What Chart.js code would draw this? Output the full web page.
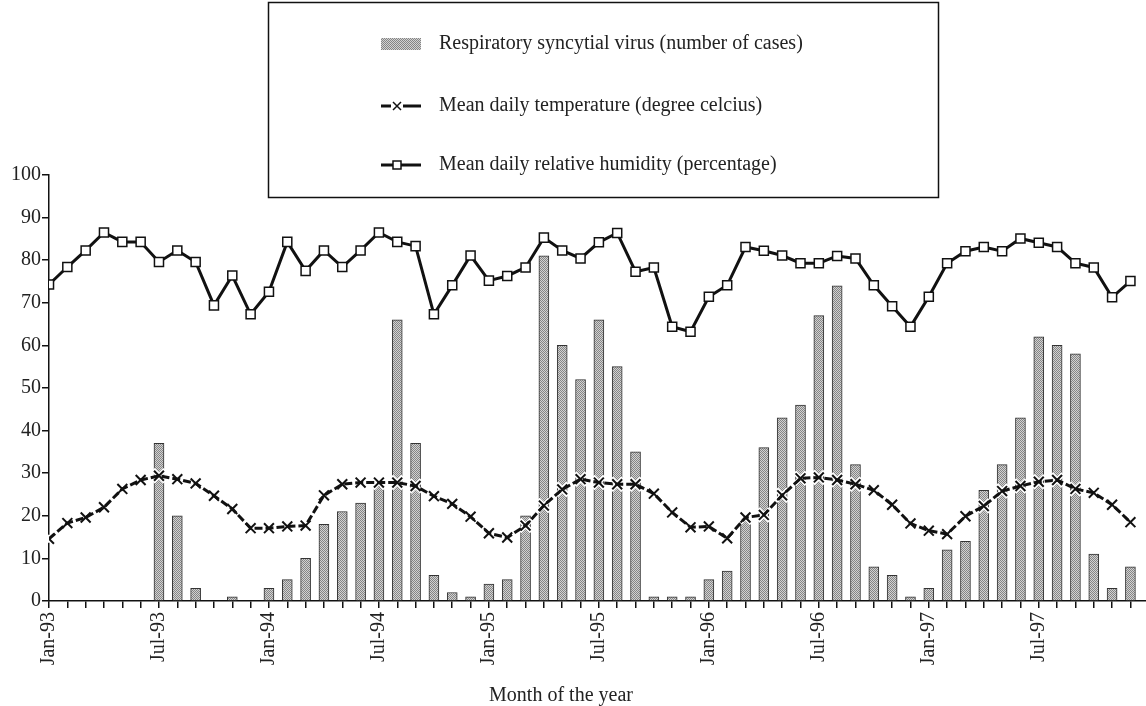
<!DOCTYPE html>
<html>
<head>
<meta charset="utf-8">
<script src="https://cdn.jsdelivr.net/npm/chart.js@4.4.0/dist/chart.umd.min.js"></script>
<style>
  body { margin: 0; background: #fff; }
  #wrap { width: 1146px; height: 706px; }
</style>
</head>
<body>
<div id="wrap"><canvas id="grafico" width="1146" height="706"></canvas></div>
<script>
// meses del eje x
const months = [
  'Jan-93','Feb-93','Mar-93','Apr-93','May-93','Jun-93','Jul-93','Aug-93','Sep-93','Oct-93','Nov-93','Dec-93',
  'Jan-94','Feb-94','Mar-94','Apr-94','May-94','Jun-94','Jul-94','Aug-94','Sep-94','Oct-94','Nov-94','Dec-94',
  'Jan-95','Feb-95','Mar-95','Apr-95','May-95','Jun-95','Jul-95','Aug-95','Sep-95','Oct-95','Nov-95','Dec-95',
  'Jan-96','Feb-96','Mar-96','Apr-96','May-96','Jun-96','Jul-96','Aug-96','Sep-96','Oct-96','Nov-96','Dec-96',
  'Jan-97','Feb-97','Mar-97','Apr-97','May-97','Jun-97','Jul-97','Aug-97','Sep-97','Oct-97','Nov-97','Dec-97'
];
// etiquetas que se muestran
const tickLabels = ['Jan-93','Jul-93','Jan-94','Jul-94','Jan-95','Jul-95','Jan-96','Jul-96','Jan-97','Jul-97'];

// casos de virus sincitial respiratorio
const rsvCases = [
  0, 0, 0, 0, 0, 0, 37, 20, 3, 0, 1, 0,
  3, 5, 10, 18, 21, 23, 27, 66, 37, 6, 2, 1,
  4, 5, 20, 81, 60, 52, 66, 55, 35, 1, 1, 1,
  5, 7, 19, 36, 43, 46, 67, 74, 32, 8, 6, 1,
  3, 12, 14, 26, 32, 43, 62, 60, 58, 11, 3, 8
];
// temperatura media diaria
const temperature = [
  14.6, 18.3, 19.6, 22.0, 26.3, 28.4, 29.4, 28.6, 27.6, 24.7, 21.6, 17.1,
  17.1, 17.5, 17.7, 24.8, 27.4, 27.8, 27.8, 27.8, 27.0, 24.6, 22.8, 19.8,
  15.9, 14.9, 17.7, 22.4, 26.2, 28.6, 27.8, 27.4, 27.4, 25.2, 20.8, 17.3,
  17.5, 14.7, 19.6, 20.2, 24.8, 28.8, 29.0, 28.4, 27.4, 26.0, 22.6, 18.2,
  16.5, 15.7, 19.9, 22.3, 25.8, 27.0, 28.0, 28.4, 26.3, 25.4, 22.6, 18.5
];
// humedad relativa media diaria
const humidity = [
  74.3, 78.4, 82.3, 86.5, 84.3, 84.3, 79.6, 82.3, 79.6, 69.4, 76.4, 67.3,
  72.6, 84.3, 77.5, 82.3, 78.4, 82.3, 86.5, 84.3, 83.3, 67.3, 74.1, 81.1,
  75.2, 76.3, 78.3, 85.3, 82.3, 80.4, 84.2, 86.4, 77.3, 78.3, 64.4, 63.2,
  71.4, 74.1, 83.1, 82.2, 81.1, 79.3, 79.3, 81.0, 80.4, 74.1, 69.2, 64.4,
  71.4, 79.3, 82.1, 83.1, 82.1, 85.1, 84.1, 83.1, 79.3, 78.3, 71.3, 75.1
];

const legendItems = [
  'Respiratory syncytial virus (number of cases)',
  'Mean daily temperature (degree celcius)',
  'Mean daily relative humidity (percentage)'
];
const xTitle = 'Month of the year';

const FONT = '"Liberation Serif", "Times New Roman", serif';
const canvas = document.getElementById('grafico');
const ctx = canvas.getContext('2d');

// trama gris punteada para las barras
function trama() {
  const c = document.createElement('canvas');
  c.width = 2; c.height = 2;
  const g = c.getContext('2d');
  g.fillStyle = '#d2d2d2';
  g.fillRect(0, 0, 2, 2);
  g.fillStyle = '#858585';
  g.fillRect(0, 0, 1, 1);
  g.fillRect(1, 1, 1, 1);
  return ctx.createPattern(c, 'repeat');
}
const barFill = trama();

const toXY = arr => arr.map((v, i) => ({ x: i, y: v }));

// halo blanco bajo las cruces de temperatura (como en el original)
const haloCruces = {
  id: 'haloCruces',
  beforeDatasetDraw(chart, args) {
    if (args.index !== 1) return;
    const c = chart.ctx;
    c.save();
    c.strokeStyle = '#fff';
    c.lineWidth = 5;
    args.meta.data.forEach(p => {
      c.beginPath();
      c.moveTo(p.x - 6, p.y - 6); c.lineTo(p.x + 6, p.y + 6);
      c.moveTo(p.x + 6, p.y - 6); c.lineTo(p.x - 6, p.y + 6);
      c.stroke();
    });
    c.restore();
  }
};

// leyenda dibujada a mano dentro del recuadro + titulo del eje x
const cajaLeyenda = {
  id: 'cajaLeyenda',
  afterDraw(chart) {
    const c = chart.ctx;
    c.save();
    c.strokeStyle = '#111';
    c.lineWidth = 1.5;
    c.strokeRect(268.5, 2.5, 670, 195);

    const rows = [44, 106, 165];
    const sx = 381, ex = 421, mx = 397;

    // barra
    c.fillStyle = barFill;
    c.fillRect(sx, rows[0] - 6, ex - sx, 12);

    // temperatura
    c.strokeStyle = '#111';
    c.lineWidth = 3;
    c.beginPath();
    c.moveTo(sx, rows[1]); c.lineTo(mx - 6, rows[1]);
    c.moveTo(mx + 6, rows[1]); c.lineTo(ex, rows[1]);
    c.stroke();
    c.lineWidth = 1.5;
    c.beginPath();
    c.moveTo(mx - 4, rows[1] - 4); c.lineTo(mx + 4, rows[1] + 4);
    c.moveTo(mx + 4, rows[1] - 4); c.lineTo(mx - 4, rows[1] + 4);
    c.stroke();

    // humedad
    c.lineWidth = 3;
    c.beginPath();
    c.moveTo(sx, rows[2]); c.lineTo(ex, rows[2]);
    c.stroke();
    c.fillStyle = '#fff';
    c.fillRect(mx - 4, rows[2] - 4, 8, 8);
    c.lineWidth = 1.5;
    c.strokeRect(mx - 4, rows[2] - 4, 8, 8);

    c.fillStyle = '#222';
    c.font = '20px ' + FONT;
    c.textBaseline = 'middle';
    legendItems.forEach((t, i) => c.fillText(t, 439, rows[i]));

    c.textAlign = 'center';
    c.fillText(xTitle, 561, 696);
    c.restore();
  }
};

const chart = new Chart(canvas, {
  type: 'bar',
  data: {
    datasets: [
      {
        type: 'line',
        label: legendItems[2],
        data: toXY(humidity),
        borderColor: '#111',
        borderWidth: 3,
        pointStyle: 'rect',
        pointRadius: 6.4,
        pointBorderWidth: 1.5,
        pointBackgroundColor: '#fff',
        pointBorderColor: '#111',
        tension: 0,
        order: 1
      },
      {
        type: 'line',
        label: legendItems[1],
        data: toXY(temperature),
        borderColor: '#111',
        borderWidth: 3,
        borderDash: [8, 3],
        pointStyle: 'crossRot',
        pointRadius: 7,
        pointBorderWidth: 2,
        pointBorderColor: '#111',
        tension: 0,
        order: 2
      },
      {
        label: legendItems[0],
        data: toXY(rsvCases),
        backgroundColor: barFill,
        borderColor: '#333',
        borderWidth: 1,
        barThickness: 10,
        order: 3
      }
    ]
  },
  options: {
    responsive: false,
    animation: false,
    layout: { autoPadding: false, padding: { top: 175, right: 0, left: 0, bottom: 0 } },
    plugins: {
      legend: { display: false },
      tooltip: { enabled: false }
    },
    scales: {
      x: {
        type: 'linear',
        offset: false,
        min: 0,
        max: 59.85,
        afterBuildTicks: scale => { scale.ticks = months.map((m, i) => ({ value: i })); },
        afterFit: scale => {
          scale.height = 105;
          scale.paddingLeft = 0;
          scale.paddingRight = 0;
        },
        border: { color: '#111', width: 1.5 },
        grid: { offset: false, drawOnChartArea: false, tickLength: 7, color: '#111', lineWidth: 1.5 },
        ticks: {
          autoSkip: false,
          maxRotation: 90,
          minRotation: 90,
          padding: 4,
          color: '#222',
          font: { family: FONT, size: 20 },
          callback: v => tickLabels.includes(months[v]) ? months[v] : ''
        }
      },
      y: {
        min: 0,
        max: 100,
        afterFit: scale => { scale.width = 49; },
        border: { color: '#111', width: 1.5 },
        grid: { drawOnChartArea: false, tickLength: 7, color: '#111', lineWidth: 1.5 },
        ticks: {
          stepSize: 10,
          padding: 1,
          color: '#222',
          font: { family: FONT, size: 20 }
        }
      }
    }
  },
  plugins: [haloCruces, cajaLeyenda]
});
</script>
</body>
</html>
